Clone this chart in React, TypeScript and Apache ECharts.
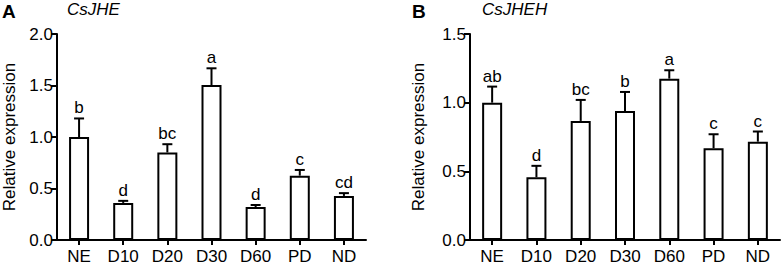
import React, { useEffect, useRef } from "react";
import * as echarts from "echarts";

const categories = ["NE", "D10", "D20", "D30", "D60", "PD", "ND"];

const jheMeans = [1.0, 0.36, 0.85, 1.505, 0.32, 0.625, 0.428];
const jheErrTops = [1.18, 0.38, 0.93, 1.667, 0.34, 0.68, 0.455];
const jheLetters = ["b", "d", "bc", "a", "d", "c", "cd"];

const jhehMeans = [1.0, 0.457, 0.867, 0.94, 1.175, 0.668, 0.716];
const jhehErrTops = [1.117, 0.54, 1.02, 1.078, 1.236, 0.77, 0.79];
const jhehLetters = ["ab", "d", "bc", "b", "a", "c", "c"];

const FONT = "'Liberation Sans', Arial, sans-serif";

function makeErr(means: number[], tops: number[], letters: string[], idx: number) {
  return {
    type: "custom",
    xAxisIndex: idx,
    yAxisIndex: idx,
    z: 5,
    data: means.map((m, i) => [i, m, tops[i]]),
    renderItem: (params: any, api: any) => {
      const i = api.value(0);
      const base = api.coord([i, api.value(1)]);
      const top = api.coord([i, api.value(2)]);
      const letter = letters[params.dataIndex];
      const hw = 5;
      return {
        type: "group",
        children: [
          {
            type: "line",
            shape: { x1: base[0], y1: base[1], x2: top[0], y2: top[1] },
            style: { stroke: "#000", lineWidth: 2 },
          },
          {
            type: "line",
            shape: { x1: top[0] - hw, y1: top[1], x2: top[0] + hw, y2: top[1] },
            style: { stroke: "#000", lineWidth: 2 },
          },
          {
            type: "text",
            x: top[0],
            y: top[1] - 2,
            style: {
              text: letter,
              fill: "#000",
              font: `17px ${FONT}`,
              textAlign: "center",
              textVerticalAlign: "bottom",
            },
          },
        ],
      };
    },
  };
}

export default function App() {
  const ref = useRef<HTMLDivElement>(null);
  useEffect(() => {
    if (!ref.current) return;
    const chart = echarts.init(ref.current, null, { renderer: "svg" });
    const axisCommon = {
      axisLine: { show: true, lineStyle: { color: "#000", width: 2 } },
      axisTick: { show: true, length: 6, lineStyle: { color: "#000", width: 2 } },
      splitLine: { show: false },
    };
    const xAxis = (gi: number) => ({
      type: "category",
      gridIndex: gi,
      data: categories,
      ...axisCommon,
      axisTick: { show: true, alignWithLabel: true, length: 5, lineStyle: { color: "#000", width: 2 } },
      axisLabel: { color: "#000", fontSize: 17, fontFamily: FONT, margin: 8 },
    });
    const yAxis = (gi: number, max: number, gap: number) => ({
      type: "value",
      gridIndex: gi,
      min: 0,
      max,
      interval: 0.5,
      ...axisCommon,
      axisLabel: {
        color: "#000",
        fontSize: 17,
        fontFamily: FONT,
        margin: 4,
        formatter: (v: number) => v.toFixed(1),
      },
      name: "Relative expression",
      nameLocation: "middle",
      nameGap: gap,
      nameTextStyle: { color: "#000", fontSize: 17, fontFamily: FONT },
    });
    const barSeries = (data: number[], idx: number) => ({
      type: "bar",
      xAxisIndex: idx,
      yAxisIndex: idx,
      data,
      barWidth: 20,
      itemStyle: { color: "#fff", borderColor: "#000", borderWidth: 2 },
      z: 3,
    });
    chart.setOption({
      animation: false,
      backgroundColor: "#fff",
      grid: [
        { left: 57, top: 34, width: 309, height: 206 },
        { left: 470, top: 34, width: 310, height: 206 },
      ],
      xAxis: [xAxis(0), xAxis(1)],
      yAxis: [yAxis(0, 2.0, 39), yAxis(1, 1.5, 43)],
      series: [
        barSeries(jheMeans, 0),
        makeErr(jheMeans, jheErrTops, jheLetters, 0),
        barSeries(jhehMeans, 1),
        makeErr(jhehMeans, jhehErrTops, jhehLetters, 1),
      ],
      graphic: [
        { type: "text", left: 2, top: 2, style: { text: "A", font: `bold 19px ${FONT}`, fill: "#000" } },
        { type: "text", left: 67, top: 1, style: { text: "CsJHE", font: `italic 17px ${FONT}`, fill: "#000" } },
        { type: "text", left: 412, top: 2, style: { text: "B", font: `bold 19px ${FONT}`, fill: "#000" } },
        { type: "text", left: 482, top: 1, style: { text: "CsJHEH", font: `italic 17px ${FONT}`, fill: "#000" } },
      ],
    });
    return () => chart.dispose();
  }, []);
  return (
    <div
      ref={ref}
      style={{ position: "fixed", left: 0, top: 0, width: 782, height: 268, background: "#fff" }}
    />
  );
}
